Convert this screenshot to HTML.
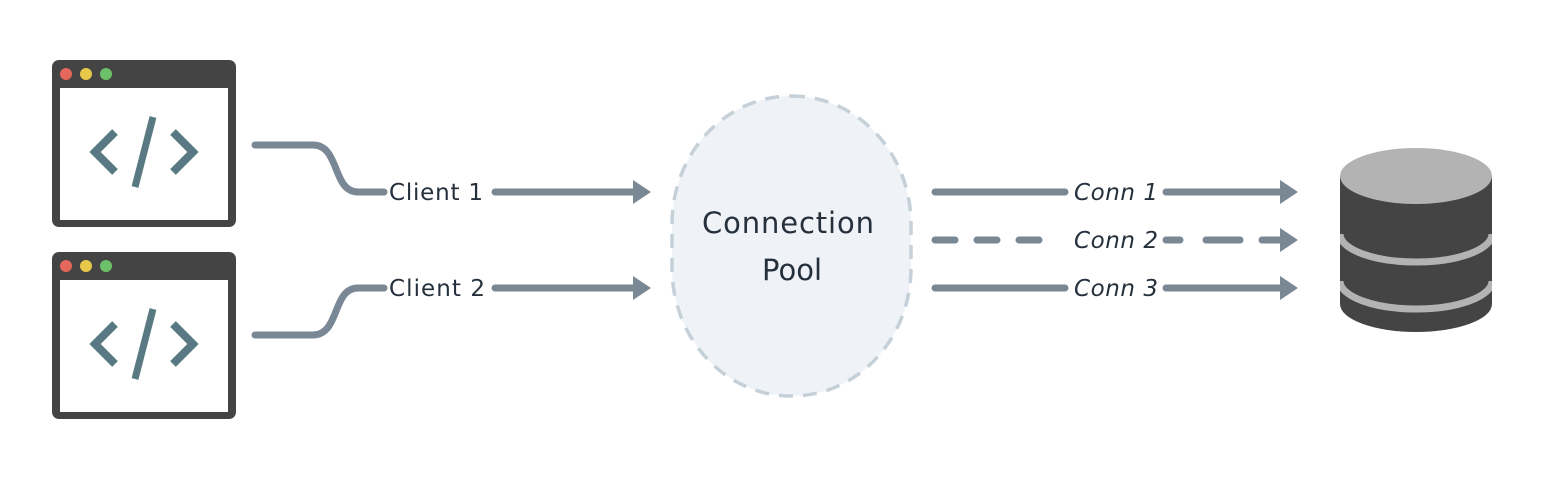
<!DOCTYPE html>
<html><head><meta charset="utf-8"><style>
html,body{margin:0;padding:0;background:#fff;}
svg{display:block;}
text{font-family:"DejaVu Sans","Liberation Sans",sans-serif;}
</style></head><body>
<svg width="1560" height="480" viewBox="0 0 1560 480" xmlns="http://www.w3.org/2000/svg">
<defs>
<g id="win">
<rect x="52" y="60" width="184" height="167" rx="7" fill="#444"/>
<rect x="60" y="88" width="168" height="132" fill="#fff"/>
<circle cx="66" cy="74" r="6" fill="#e5665a"/>
<circle cx="86" cy="74" r="6" fill="#e7c84b"/>
<circle cx="106" cy="74" r="6" fill="#6cc06a"/>
<polyline points="115,132 95,152 115,172" fill="none" stroke="#5a7a83" stroke-width="8"/>
<polyline points="173,132 193,152 173,172" fill="none" stroke="#5a7a83" stroke-width="8"/>
<line x1="153" y1="117" x2="135" y2="187" stroke="#5a7a83" stroke-width="7"/>
</g>
<clipPath id="cyl"><rect x="1340" y="140" width="152" height="200"/></clipPath>
</defs>
<use href="#win"/>
<use href="#win" y="192"/>
<g fill="none" stroke="#7a8896" stroke-width="7" stroke-linecap="round">
<path d="M255 145 H313 C340 145 332 192 358 192 H384"/>
<path d="M255 335 H313 C340 335 332 288 358 288 H384"/>
<path d="M495 192 H635"/>
<path d="M495 288 H635"/>
<path d="M935 192 H1065"/>
<path d="M935 240 H1060" stroke-dasharray="20 22"/>
<path d="M935 288 H1065"/>
<path d="M1166 192 H1285"/>
<path d="M1166 240 H1180 M1206 240 H1240 M1262 240 H1285"/>
<path d="M1166 288 H1285"/>
</g>
<g fill="#7a8896">
<polygon points="633,180 651,192 633,204"/>
<polygon points="633,276 651,288 633,300"/>
<polygon points="1280,180 1298,192 1280,204"/>
<polygon points="1280,228 1298,240 1280,252"/>
<polygon points="1280,276 1298,288 1280,300"/>
</g>
<g font-size="23" fill="#25303c" font-weight="500">
<text x="389" y="200" textLength="94">Client 1</text>
<text x="389" y="296" textLength="96">Client 2</text>
<text x="1074" y="200" font-style="italic" textLength="84">Conn 1</text>
<text x="1074" y="248" font-style="italic" textLength="84">Conn 2</text>
<text x="1074" y="296" font-style="italic" textLength="84">Conn 3</text>
</g>
<rect x="672" y="96" width="239" height="300" rx="119" ry="128" fill="#eff3f7" stroke="#c5d0d9" stroke-width="3.5" stroke-dasharray="14 10"/>
<g font-size="29" fill="#25303c" text-anchor="middle">
<text x="788" y="233" textLength="172">Connection</text>
<text x="792" y="280">Pool</text>
</g>
<path d="M1340 176 V304 A76 28 0 0 0 1492 304 V176 Z" fill="#444"/>
<ellipse cx="1416" cy="176" rx="76" ry="28" fill="#b3b3b3"/>
<g clip-path="url(#cyl)">
<path d="M1340 234 A76 28 0 0 0 1492 234" fill="none" stroke="#b3b3b3" stroke-width="7"/>
<path d="M1340 281 A76 28 0 0 0 1492 281" fill="none" stroke="#b3b3b3" stroke-width="7"/>
</g>
</svg>
</body></html>
